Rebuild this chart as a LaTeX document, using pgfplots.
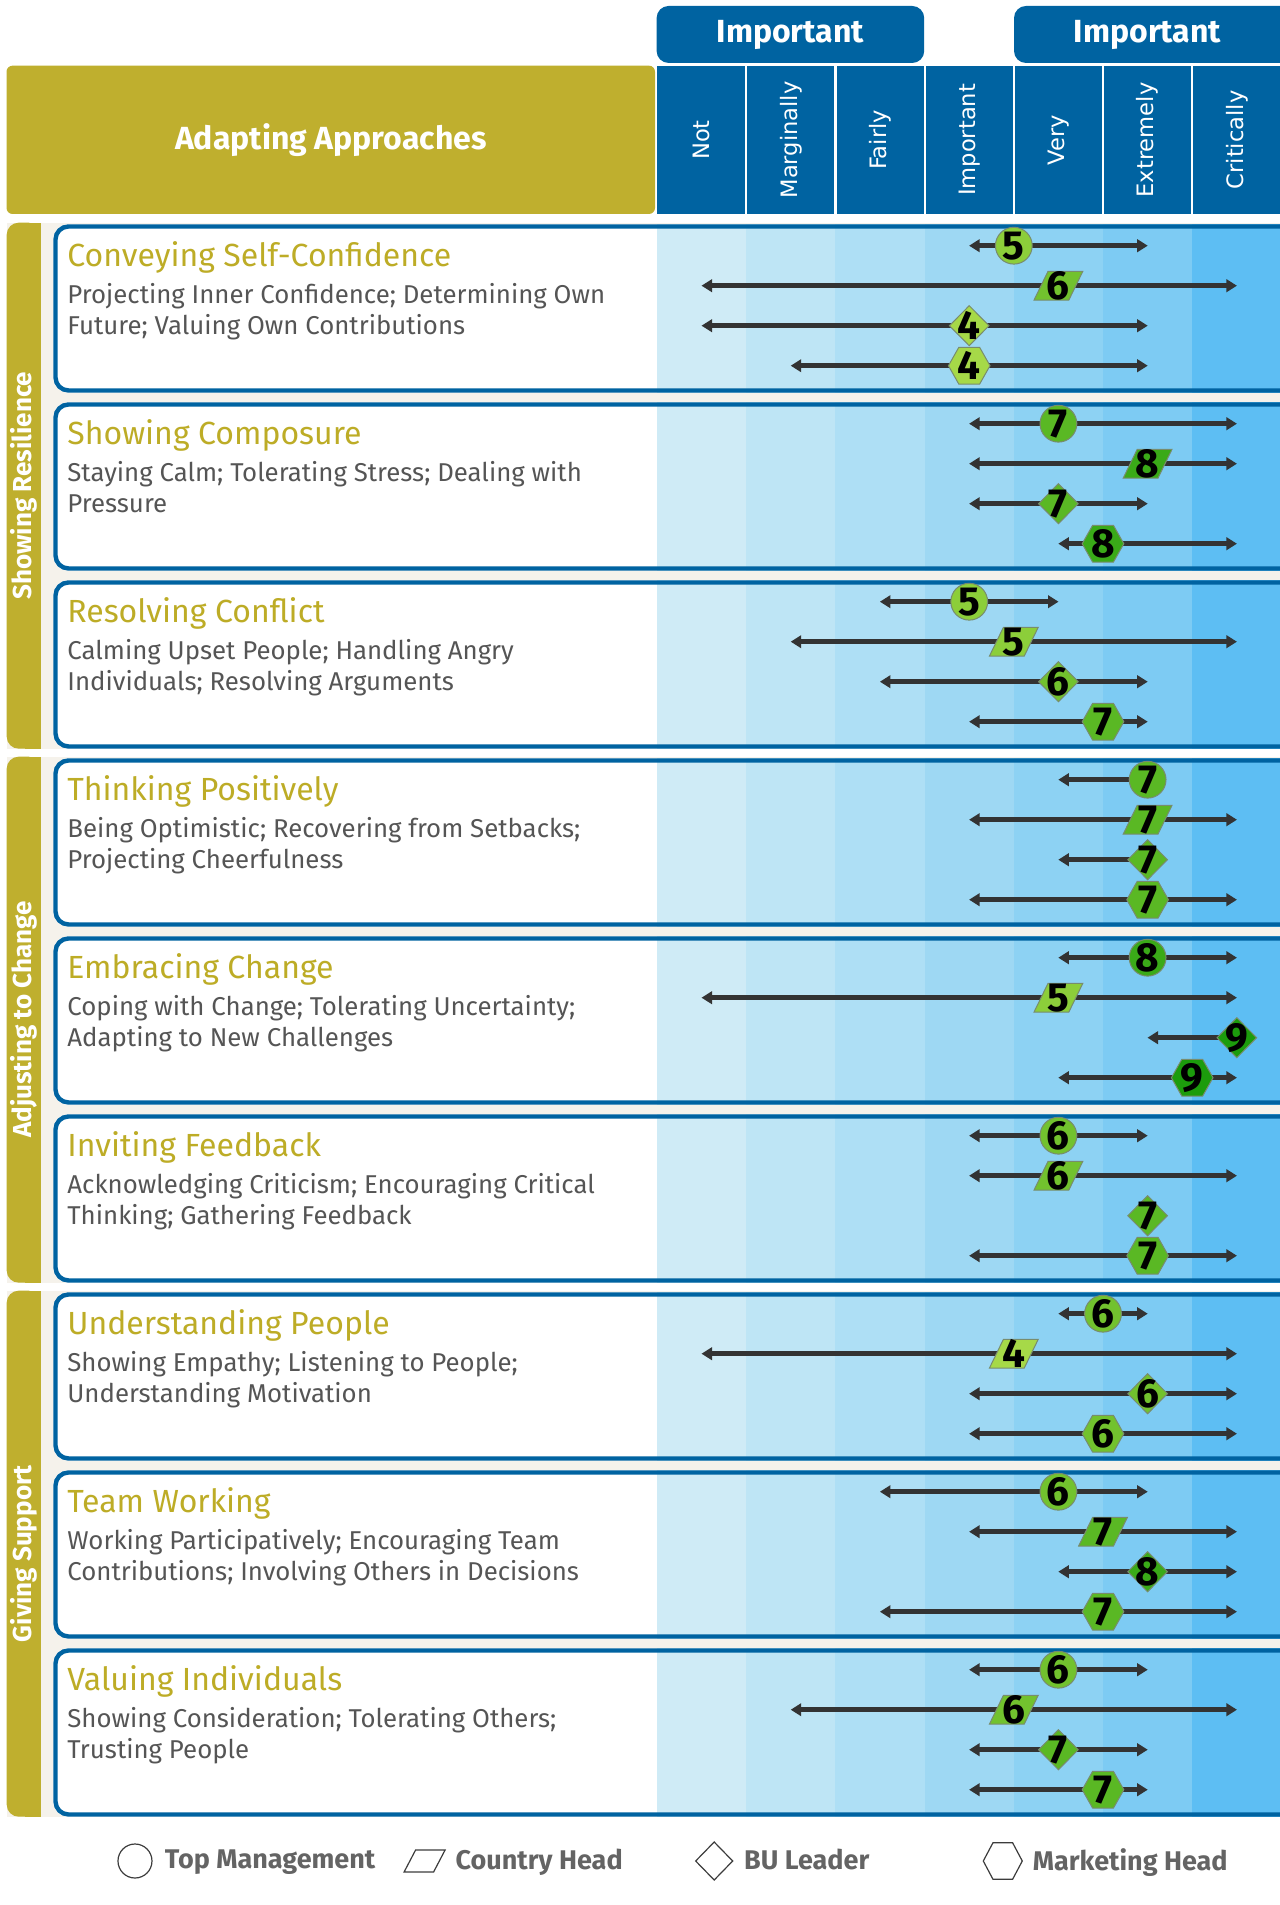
\documentclass[border=0pt]{standalone}
\usepackage{pgfplots}
\pgfplotsset{compat=1.18}
\usepackage{pgfplotstable}
\usepackage{fontspec}
\setmainfont{Fira Sans}
\newfontfamily\dejavu{DejaVu Sans}

\definecolor{hdrblue}{RGB}{0,99,161}
\definecolor{olive}{RGB}{191,175,46}
\definecolor{titleolive}{RGB}{189,172,38}
\definecolor{cream}{RGB}{245,242,235}
\definecolor{subgray}{RGB}{85,85,85}
\definecolor{arrowgray}{RGB}{51,51,51}
\definecolor{leggray}{RGB}{100,100,100}
\definecolor{legline}{RGB}{60,60,60}
\definecolor{mborder}{RGB}{120,140,110}
\definecolor{cA}{RGB}{207,235,246}
\definecolor{cB}{RGB}{190,229,245}
\definecolor{cC}{RGB}{174,223,245}
\definecolor{cD}{RGB}{158,216,243}
\definecolor{cE}{RGB}{141,210,243}
\definecolor{cF}{RGB}{125,203,243}
\definecolor{cG}{RGB}{93,190,243}
\definecolor{g4}{RGB}{166,217,72}
\definecolor{g5}{RGB}{140,206,58}
\definecolor{g6}{RGB}{114,194,46}
\definecolor{g7}{RGB}{90,184,36}
\definecolor{g8}{RGB}{58,170,24}
\definecolor{g9}{RGB}{28,156,12}

% marks (sizes in pt, 1 px of the reference = 0.5pt)
\pgfdeclareplotmark{ltip}{\pgfpathmoveto{\pgfpoint{0pt}{0pt}}\pgfpathlineto{\pgfpoint{5.2pt}{3.3pt}}\pgfpathlineto{\pgfpoint{5.2pt}{-3.3pt}}\pgfpathclose\pgfusepathqfill}
\pgfdeclareplotmark{rtip}{\pgfpathmoveto{\pgfpoint{0pt}{0pt}}\pgfpathlineto{\pgfpoint{-5.2pt}{3.3pt}}\pgfpathlineto{\pgfpoint{-5.2pt}{-3.3pt}}\pgfpathclose\pgfusepathqfill}
\pgfdeclareplotmark{mcirc}{\pgfpathcircle{\pgfpointorigin}{9.2pt}\pgfusepathqfillstroke}
\pgfdeclareplotmark{mdia}{\pgfpathmoveto{\pgfpoint{0pt}{10pt}}\pgfpathlineto{\pgfpoint{9.9pt}{0pt}}\pgfpathlineto{\pgfpoint{0pt}{-10pt}}\pgfpathlineto{\pgfpoint{-9.9pt}{0pt}}\pgfpathclose\pgfusepathqfillstroke}
\pgfdeclareplotmark{mhex}{\pgfpathmoveto{\pgfpoint{-10.4pt}{0pt}}\pgfpathlineto{\pgfpoint{-5.2pt}{9.2pt}}\pgfpathlineto{\pgfpoint{5.2pt}{9.2pt}}\pgfpathlineto{\pgfpoint{10.4pt}{0pt}}\pgfpathlineto{\pgfpoint{5.2pt}{-9.2pt}}\pgfpathlineto{\pgfpoint{-5.2pt}{-9.2pt}}\pgfpathclose\pgfusepathqfillstroke}
\pgfdeclareplotmark{mpar}{\pgfpathmoveto{\pgfpoint{-5.2pt}{7.2pt}}\pgfpathlineto{\pgfpoint{12.2pt}{7.2pt}}\pgfpathlineto{\pgfpoint{5.2pt}{-7.2pt}}\pgfpathlineto{\pgfpoint{-12.2pt}{-7.2pt}}\pgfpathclose\pgfusepathqfillstroke}

% data: y (row position), lo/hi (range ends), pos (marker), lab (score)
\pgfplotstableread{
y lo hi pos lab
245.7 4 6 4.5 5
423.7 4 7 5.0 7
601.7 3 5 4.0 5
779.7 5 6 6.0 7
957.7 5 7 6.0 8
1135.7 4 6 5.0 6
1313.7 5 6 5.5 6
1491.7 3 6 5.0 6
1669.7 4 6 5.0 6
}\tabCirc
\pgfplotstableread{
y lo hi pos lab
285.7 1 7 5.0 6
463.7 4 7 6.0 8
641.7 2 7 4.5 5
819.7 4 7 6.0 7
997.7 1 7 5.0 5
1175.7 4 7 5.0 6
1353.7 1 7 4.5 4
1531.7 4 7 5.5 7
1709.7 2 7 4.5 6
}\tabPar
\pgfplotstableread{
y lo hi pos lab
325.7 1 6 4.0 4
503.7 4 6 5.0 7
681.7 3 6 5.0 6
859.7 5 6 6.0 7
1037.7 6 7 7.0 9
1215.7 6 6 6.0 7
1393.7 4 7 6.0 6
1571.7 5 7 6.0 8
1749.7 4 6 5.0 7
}\tabDia
\pgfplotstableread{
y lo hi pos lab
365.7 2 6 4.0 4
543.7 5 7 5.5 8
721.7 4 6 5.5 7
899.7 4 7 6.0 7
1077.7 5 7 6.5 9
1255.7 4 7 6.0 7
1433.7 4 7 5.5 6
1611.7 3 7 5.5 7
1789.7 4 6 5.5 7
}\tabHex

\pgfplotsset{
  rangebar/.style={only marks, mark=none, forget plot,
    error bars/.cd, x dir=both, x explicit, error mark=none,
    error bar style={line width=2.3pt, draw=arrowgray, solid}},
  tipL/.style={only marks, mark=ltip, color=arrowgray, forget plot},
  tipR/.style={only marks, mark=rtip, color=arrowgray, forget plot},
  gm/.style n args={3}{only marks, forget plot, mark=#1,
    draw=mborder, fill=#2,
    mark options={draw=mborder, fill=#2, line width=0.5pt, solid},
    restrict expr to domain={\thisrow{lab}}{#3}},
  scorelabel/.style={only marks, mark=none, forget plot,
    point meta=explicit symbolic,
    nodes near coords={\fontsize{14.5}{15}\selectfont\bfseries\pgfplotspointmeta},
    every node near coord/.append style={anchor=center, inner sep=0pt, text=black, scale=1.4}},
}

\begin{document}
\begin{tikzpicture}
\path[use as bounding box] (0,0) rectangle (639.5pt,952.5pt);
\begin{scope}[x=0.5pt,y=-0.5pt,shift={(0pt,952.5pt)}]
  % header
  \fill[hdrblue, rounded corners=6pt] (656.6,6) rectangle (924.2,63);
  \fill[hdrblue, rounded corners=6pt] (1014,6) rectangle (1320,63);
  \node[white, font=\bfseries\fontsize{16}{18}\selectfont] at (790.4,34.5) {Important};
  \node[white, font=\bfseries\fontsize{16}{18}\selectfont] at (1147.6,34.5) {Important};
  \fill[olive, rounded corners=3pt] (6.5,65.7) rectangle (655,214);
  \node[white, font=\bfseries\fontsize{16}{18}\selectfont] at (330.8,140) {Adapting Approaches};
  \fill[hdrblue] (656.6,65.7) rectangle (1320,214);
  \foreach \xx in {746.2,835.4,924.6,1013.8,1103,1192.2}
    \draw[white, line width=1.1pt] (\xx,65.7) -- (\xx,214);
  \foreach \i/\cl in {1/Not,2/Marginally,3/Fairly,4/Important,5/Very,6/Extremely,7/Critically}
    \node[rotate=90, white, font=\dejavu\fontsize{11.3}{13}\selectfont] at ({657+89.2*(\i-0.5)},140) {\cl};
  % group panels
  \foreach \g/\gl in {0/Showing Resilience,1/Adjusting to Change,2/Giving Support} {
    \fill[cream] (6.7,{222.7+534*\g}) rectangle (1320,{748.7+534*\g});
    \fill[olive, rounded corners=6pt] (6.7,{222.7+534*\g}) rectangle (40.5,{748.7+534*\g});
    \fill[olive] (25,{222.7+534*\g}) rectangle (40.5,{748.7+534*\g});
    \node[rotate=90, white, font=\bfseries\fontsize{13}{15}\selectfont] at (23.6,{485.7+534*\g}) {\gl};
  }
  % row boxes
  \foreach \k in {0,...,8} {
    \fill[white, rounded corners=7.5pt] (53.3,{224.3+178*\k}) rectangle (1320,{392.7+178*\k});
    \foreach \i/\c in {1/cA,2/cB,3/cC,4/cD,5/cE,6/cF,7/cG}
      \fill[\c] ({657+89.2*(\i-1)},{224.3+178*\k}) rectangle ({657+89.2*\i+(\i==7)*40},{392.7+178*\k});
    \draw[hdrblue, line width=2.2pt, rounded corners=6.5pt] (55.5,{226.5+178*\k}) rectangle (1330,{390.5+178*\k});
  }
  % row texts
  \foreach \k/\t/\a/\b in {
    0/{Conveying Self-Confidence}/{Projecting Inner Confidence; Determining Own}/{Future; Valuing Own Contributions},
    1/{Showing Composure}/{Staying Calm; Tolerating Stress; Dealing with}/{Pressure},
    2/{Resolving Conflict}/{Calming Upset People; Handling Angry}/{Individuals; Resolving Arguments},
    3/{Thinking Positively}/{Being Optimistic; Recovering from Setbacks;}/{Projecting Cheerfulness},
    4/{Embracing Change}/{Coping with Change; Tolerating Uncertainty;}/{Adapting to New Challenges},
    5/{Inviting Feedback}/{Acknowledging Criticism; Encouraging Critical}/{Thinking; Gathering Feedback},
    6/{Understanding People}/{Showing Empathy; Listening to People;}/{Understanding Motivation},
    7/{Team Working}/{Working Participatively; Encouraging Team}/{Contributions; Involving Others in Decisions},
    8/{Valuing Individuals}/{Showing Consideration; Tolerating Others;}/{Trusting People}} {
    \node[anchor=base west, inner sep=0pt, text=titleolive, font=\fontsize{16}{19}\selectfont] at (67,{266.7+178*\k}) {\t};
    \node[anchor=base west, inner sep=0pt, text=subgray, font=\fontsize{12.9}{16}\selectfont] at (67,{303.3+178*\k}) {\a};
    \node[anchor=base west, inner sep=0pt, text=subgray, font=\fontsize{12.9}{16}\selectfont] at (67,{335+178*\k}) {\b};
  }
\end{scope}

\begin{axis}[
  at={(0pt,0pt)}, anchor=south west, scale only axis,
  width=639.5pt, height=952.5pt,
  xmin=-6.866, xmax=7.473, ymin=0, ymax=1905, y dir=reverse,
  hide axis, clip=false,
  legend columns=4,
  legend style={at={(0.0899,0.0231)}, anchor=west, draw=none, fill=none,
    inner sep=0pt, outer sep=0pt,
    nodes={inner sep=0pt, text=leggray, font=\bfseries\fontsize{13.5}{15}\selectfont},
    /tikz/every odd column/.append style={column sep=5pt},
    /tikz/every even column/.append style={column sep=19.25pt}},
]
\addlegendimage{legend image code/.code={\path[draw=none,fill=none] (-10pt,-10pt) rectangle (10pt,10pt); \draw[legline, fill=none, line width=0.6pt] (0pt,0pt) circle[radius=8.5pt];}}
\addlegendentry{\makebox[100pt][l]{Top Management}}
\addlegendimage{legend image code/.code={\path[draw=none,fill=none] (-10pt,-10pt) rectangle (10pt,10pt); \draw[legline, fill=none, line width=0.6pt] (-4.5pt,5.5pt) -- (10.25pt,5.5pt) -- (4.5pt,-5.5pt) -- (-10.25pt,-5.5pt) -- cycle;}}
\addlegendentry{\makebox[100pt][l]{Country Head}}
\addlegendimage{legend image code/.code={\path[draw=none,fill=none] (-10pt,-10pt) rectangle (10pt,10pt); \draw[legline, fill=none, line width=0.6pt] (0pt,9.5pt) -- (9.25pt,0pt) -- (0pt,-9.5pt) -- (-9.25pt,0pt) -- cycle;}}
\addlegendentry{\makebox[100pt][l]{BU Leader}}
\addlegendimage{legend image code/.code={\path[draw=none,fill=none] (-10pt,-10pt) rectangle (10pt,10pt); \draw[legline, fill=none, line width=0.6pt] (-9.75pt,0pt) -- (-4.9pt,9.15pt) -- (4.9pt,9.15pt) -- (9.75pt,0pt) -- (4.9pt,-9.15pt) -- (-4.9pt,-9.15pt) -- cycle;}}
\addlegendentry{\makebox[100pt][l]{Marketing Head}}

% range bars and arrow tips
\addplot[rangebar] table[x=pos, y=y, x error plus expr={\thisrow{hi}-\thisrow{pos}-0.05}, x error minus expr={\thisrow{pos}-\thisrow{lo}-0.05}] {\tabCirc};
\addplot[rangebar] table[x=pos, y=y, x error plus expr={\thisrow{hi}-\thisrow{pos}-0.05}, x error minus expr={\thisrow{pos}-\thisrow{lo}-0.05}] {\tabPar};
\addplot[rangebar] table[x=pos, y=y, x error plus expr={\thisrow{hi}-\thisrow{pos}-0.05}, x error minus expr={\thisrow{pos}-\thisrow{lo}-0.05}] {\tabDia};
\addplot[rangebar] table[x=pos, y=y, x error plus expr={\thisrow{hi}-\thisrow{pos}-0.05}, x error minus expr={\thisrow{pos}-\thisrow{lo}-0.05}] {\tabHex};
\addplot[tipL] table[x=lo, y=y] {\tabCirc};
\addplot[tipR] table[x=hi, y=y] {\tabCirc};
\addplot[tipL] table[x=lo, y=y] {\tabPar};
\addplot[tipR] table[x=hi, y=y] {\tabPar};
\addplot[tipL] table[x=lo, y=y] {\tabDia};
\addplot[tipR] table[x=hi, y=y] {\tabDia};
\addplot[tipL] table[x=lo, y=y] {\tabHex};
\addplot[tipR] table[x=hi, y=y] {\tabHex};
% score markers, coloured by score
\addplot[gm={mcirc}{g5}{4.5:5.5}] table[x=pos, y=y] {\tabCirc};
\addplot[gm={mcirc}{g6}{5.5:6.5}] table[x=pos, y=y] {\tabCirc};
\addplot[gm={mcirc}{g7}{6.5:7.5}] table[x=pos, y=y] {\tabCirc};
\addplot[gm={mcirc}{g8}{7.5:8.5}] table[x=pos, y=y] {\tabCirc};
\addplot[gm={mpar}{g4}{3.5:4.5}] table[x=pos, y=y] {\tabPar};
\addplot[gm={mpar}{g5}{4.5:5.5}] table[x=pos, y=y] {\tabPar};
\addplot[gm={mpar}{g6}{5.5:6.5}] table[x=pos, y=y] {\tabPar};
\addplot[gm={mpar}{g7}{6.5:7.5}] table[x=pos, y=y] {\tabPar};
\addplot[gm={mpar}{g8}{7.5:8.5}] table[x=pos, y=y] {\tabPar};
\addplot[gm={mdia}{g4}{3.5:4.5}] table[x=pos, y=y] {\tabDia};
\addplot[gm={mdia}{g6}{5.5:6.5}] table[x=pos, y=y] {\tabDia};
\addplot[gm={mdia}{g7}{6.5:7.5}] table[x=pos, y=y] {\tabDia};
\addplot[gm={mdia}{g8}{7.5:8.5}] table[x=pos, y=y] {\tabDia};
\addplot[gm={mdia}{g9}{8.5:9.5}] table[x=pos, y=y] {\tabDia};
\addplot[gm={mhex}{g4}{3.5:4.5}] table[x=pos, y=y] {\tabHex};
\addplot[gm={mhex}{g6}{5.5:6.5}] table[x=pos, y=y] {\tabHex};
\addplot[gm={mhex}{g7}{6.5:7.5}] table[x=pos, y=y] {\tabHex};
\addplot[gm={mhex}{g8}{7.5:8.5}] table[x=pos, y=y] {\tabHex};
\addplot[gm={mhex}{g9}{8.5:9.5}] table[x=pos, y=y] {\tabHex};
% score numbers
\addplot[scorelabel] table[x=pos, y=y, meta=lab] {\tabCirc};
\addplot[scorelabel] table[x=pos, y=y, meta=lab] {\tabPar};
\addplot[scorelabel] table[x=pos, y=y, meta=lab] {\tabDia};
\addplot[scorelabel] table[x=pos, y=y, meta=lab] {\tabHex};
\end{axis}
\end{tikzpicture}
\end{document}
